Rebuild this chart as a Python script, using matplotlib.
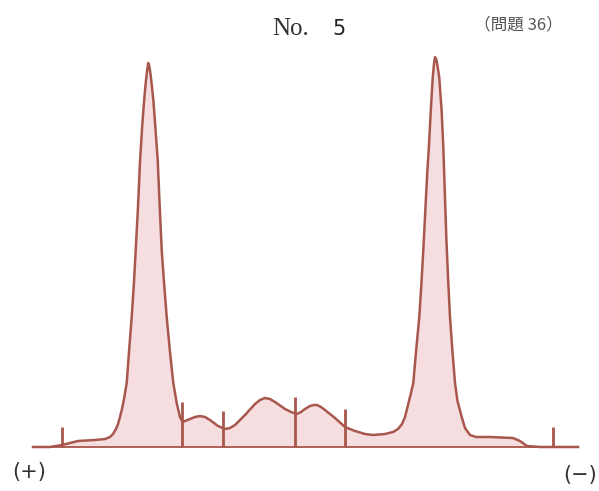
"""
Densitometry scan of electrophoresis strip, No. 5 (question 36)
"""

import matplotlib
matplotlib.use('Agg')
import matplotlib.pyplot as plt

## scan position (x) and optical density (y)
position = [33, 50, 62, 70, 78, 95, 105, 110, 113, 116, 118, 120, 122, 124, 126.7, 129,
            131.7, 134, 135.7, 138, 140, 142, 144, 145.5, 146.7, 147.6, 148.3, 149.3, 150.5,
            152, 153.5, 155.5, 157.7, 159.5, 161.7, 164, 166.7, 170, 173.3, 176.7, 180, 182.5,
            185, 190, 195, 200, 205, 210, 218, 225, 230, 235, 245, 255, 260, 265, 270, 275, 285,
            291, 297, 301, 305, 310, 314, 317, 321, 325, 335, 345, 355, 365, 373, 385, 393,
            398, 402, 405, 408, 410.5, 413.3, 416, 419.3, 421.5, 423.3, 425.5, 427.3, 429,
            430.7, 432.7, 434, 435, 436.5, 438, 439.3, 441.7, 443.3, 444.8, 446.3, 448, 450,
            452.5, 455, 457.5, 461.7, 465, 470, 476, 490, 513, 520, 527, 540, 578]
density = [0, 0, 2, 4, 6, 7, 8, 10, 13, 18, 23, 30, 38, 48, 64, 95,
           130, 165, 197, 240, 285, 318, 345, 362, 373, 380, 384, 381, 373,
           360, 345, 318, 287, 245, 197, 165, 130, 95, 64, 44, 30, 25,
           26, 28, 30, 31, 30, 27, 21, 18, 19, 22, 32, 43, 47, 49, 48, 45, 38,
           35, 33, 35, 38, 41, 42, 42, 40, 37, 29, 20, 16, 13, 12, 13, 15,
           18, 23, 30, 42, 52, 64, 95, 130, 165, 197, 240, 275, 302,
           335, 369, 383, 390, 387, 378, 369, 335, 300, 255, 210, 170, 130,
           95, 64, 46, 30, 19, 12, 10, 10, 9, 6, 1, 0, 0]

## fraction cut marks
cut_pos = [62, 182, 223, 295, 345, 553]
cut_top = [20, 45, 36, 50, 38, 20]

line_col = '#a8574c'
fill_col = '#f5dde0'

fig = plt.figure(figsize=(5.99, 4.91), dpi=100)
ax = fig.add_axes([0, 0, 1, 1])
ax.set_xlim(0, 599)
ax.set_ylim(-44, 447)
ax.axis('off')

ax.fill_between(position, density, 0, color=fill_col, lw=0)
ax.plot(position, density, color=line_col, lw=1.8, solid_joinstyle='round')
ax.plot([33, 578], [0, 0], color=line_col, lw=1.3)
ax.vlines(cut_pos, 0, cut_top, color=line_col, lw=2)

## header + polarity labels
fig.text(272 / 599, 1 - 35 / 491, 'No.', family='Liberation Serif', fontsize=18,
         color='#333333', va='baseline', ha='left')
fig.text(332 / 599, 1 - 35 / 491, '5', family='DejaVu Sans', fontsize=15,
         color='#222222', va='baseline', ha='left')
fig.text(474 / 599, 1 - 29 / 491, '（問題 36）', family=['Noto Sans CJK JP', 'DejaVu Sans'],
         fontsize=12, color='#555555', va='baseline', ha='left')
fig.text(12 / 599, 1 - 472 / 491, '(+)', family='DejaVu Sans', fontsize=15,
         color='#333333', va='center', ha='left')
fig.text(597 / 599, 1 - 475 / 491, '(−)', family='DejaVu Sans', fontsize=15,
         color='#333333', va='center', ha='right')

plt.savefig('out.png', dpi=100)
